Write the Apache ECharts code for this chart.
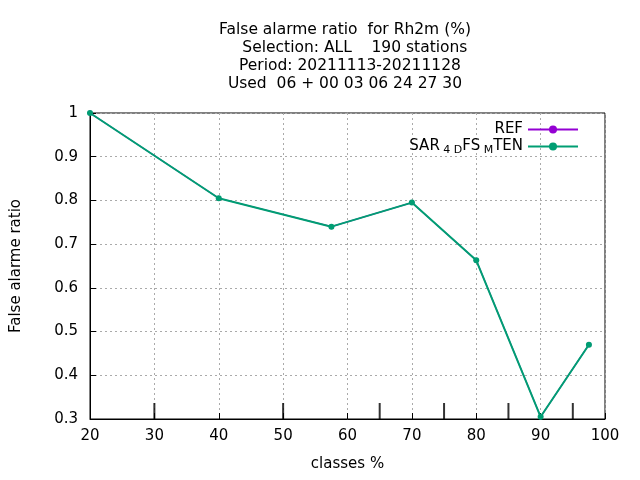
<!DOCTYPE html>
<html>
<head>
<meta charset="utf-8">
<script src="https://cdn.jsdelivr.net/npm/echarts@6/dist/echarts.min.js"></script>
<style>html,body{margin:0;padding:0;background:#fff}#c{width:640px;height:480px}</style>
</head>
<body>
<div id="c"></div>
<script>
const classes = [20, 40, 57.5, 70, 80, 90, 97.5];
const refValues = [1.0, 0.805, 0.74, 0.795, 0.663, 0.305, 0.47];
const tenValues = [1.0, 0.805, 0.74, 0.795, 0.663, 0.305, 0.47];
const boundaries = [30, 50, 65, 75, 85, 95];

const font = 'DejaVu Sans';
const chart = echarts.init(document.getElementById('c'));

chart.setOption({
  animation: false,
  textStyle: { fontFamily: font },
  title: {
    text: 'False alarme ratio  for Rh2m (%)\n    Selection: ALL    190 stations\n  Period: 20211113-20211128\nUsed  06 + 00 03 06 24 27 30',
    left: 340, top: 16, textAlign: 'center',
    textStyle: { fontFamily: font, fontSize: 15.5, fontWeight: 'normal', color: '#000', lineHeight: 18 }
  },
  legend: {
    orient: 'vertical', right: 56, top: 117, align: 'right', itemGap: 2,
    itemWidth: 50, itemHeight: 10,
    textStyle: {
      fontFamily: font, fontSize: 15, color: '#000',
      rich: { s: { fontSize: 11, verticalAlign: 'bottom', padding: [8, 0, 0, 0] } }
    },
    formatter: n => n === 'REF' ? 'REF' : 'SAR{s| 4 D}FS{s| M}TEN',
    data: ['REF', 'SAR4DFSMTEN']
  },
  grid: { left: 90, right: 35, top: 113, bottom: 61, show: true, borderColor: '#000', borderWidth: 1 },
  xAxis: {
    type: 'value', min: 20, max: 100, interval: 10,
    name: 'classes %', nameLocation: 'middle', nameGap: 38,
    nameTextStyle: { fontFamily: font, fontSize: 15, color: '#000' },
    axisLine: { lineStyle: { color: '#000' } },
    axisTick: { inside: true, length: 6, lineStyle: { color: '#000' } },
    axisLabel: { fontFamily: font, fontSize: 15, color: '#000', margin: 10 },
    splitLine: { lineStyle: { color: '#aaa', type: [2, 3] } }
  },
  yAxis: {
    type: 'value', min: 0.3, max: 1, interval: 0.1,
    name: 'False alarme ratio', nameLocation: 'middle', nameGap: 66,
    nameTextStyle: { fontFamily: font, fontSize: 15, color: '#000' },
    axisLine: { lineStyle: { color: '#000' } },
    axisTick: { inside: true, length: 6, lineStyle: { color: '#000' } },
    axisLabel: { fontFamily: font, fontSize: 15, color: '#000', margin: 12,
      formatter: v => String(Math.round(v * 10) / 10) },
    splitLine: { lineStyle: { color: '#aaa', type: [2, 3] } }
  },
  series: [
    {
      name: 'REF', type: 'line', data: classes.map((x, i) => [x, refValues[i]]),
      color: '#9400d3', symbol: 'circle', symbolSize: 5, lineStyle: { width: 1.2 }
    },
    {
      name: 'SAR4DFSMTEN', type: 'line', data: classes.map((x, i) => [x, tenValues[i]]),
      color: '#009e73', symbol: 'circle', symbolSize: 6, lineStyle: { width: 2 }
    },
    {
      name: 'bounds', type: 'scatter', data: boundaries.map(x => [x, 0.3]),
      symbol: 'rect', symbolSize: [2, 16], symbolOffset: [0, -8],
      itemStyle: { color: '#000' }, silent: true, z: 5
    }
  ]
});
</script>
</body>
</html>
